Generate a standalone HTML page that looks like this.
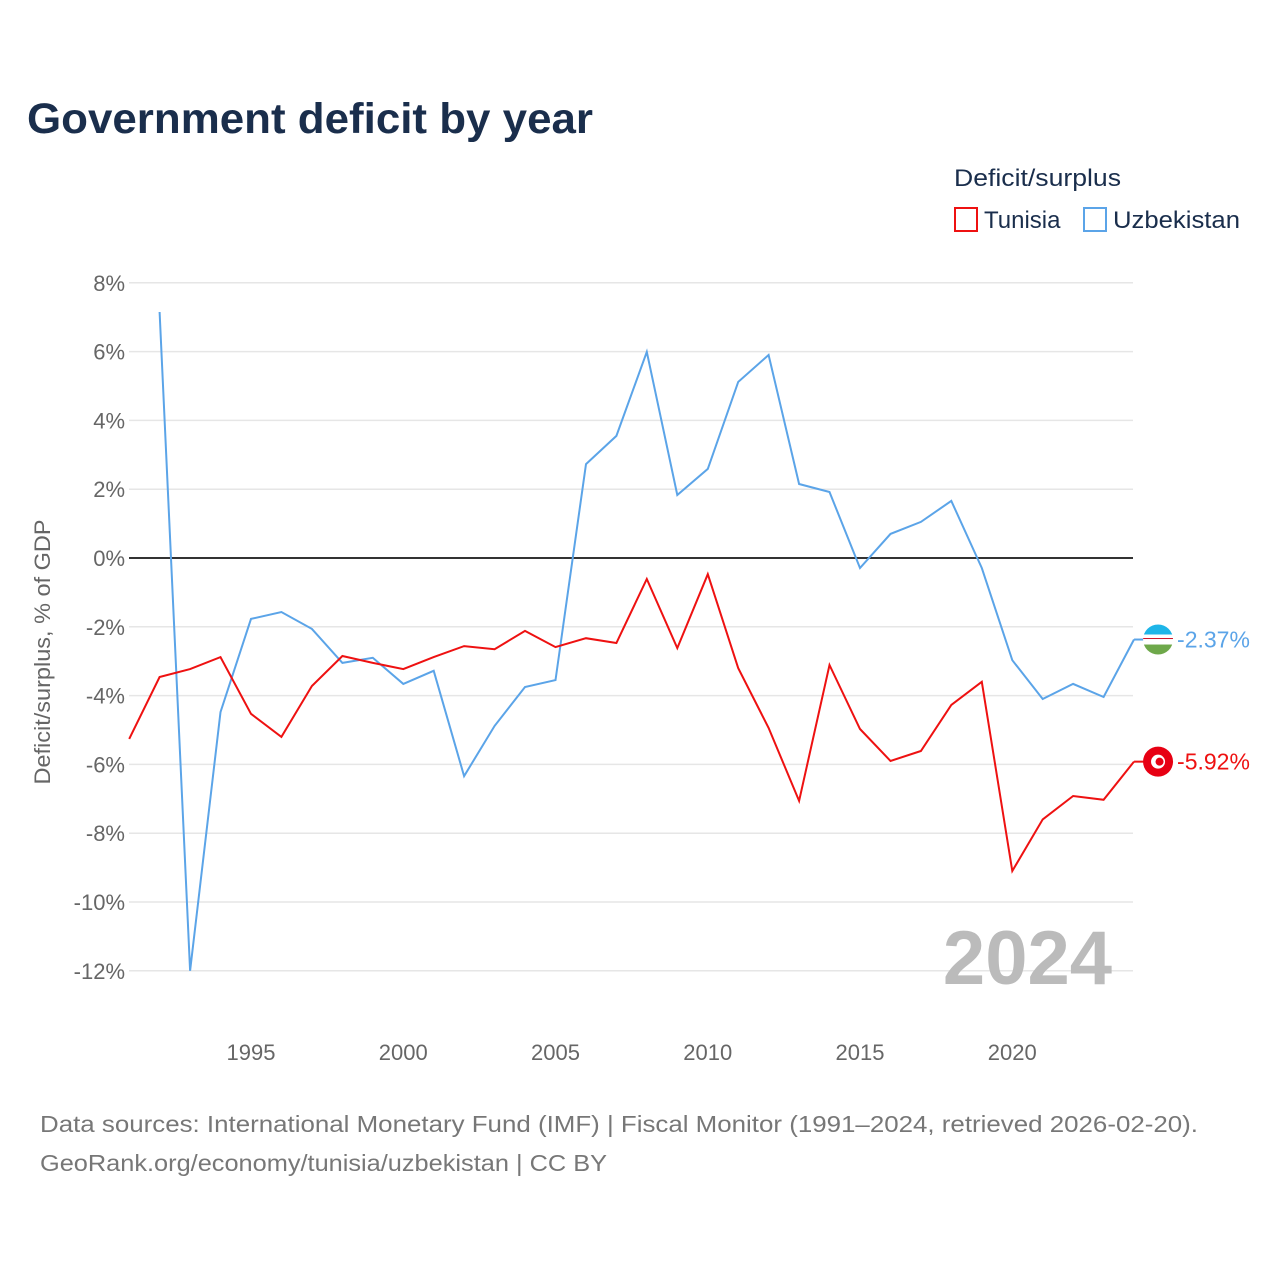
<!DOCTYPE html>
<html><head><meta charset="utf-8">
<style>
html,body{margin:0;padding:0;background:#fff;}
body{width:1280px;height:1280px;overflow:hidden;font-family:"Liberation Sans",sans-serif;}
svg text{font-family:"Liberation Sans",sans-serif;}
</style></head>
<body>
<svg id="chart" width="1280" height="1280" viewBox="0 0 1280 1280" xmlns="http://www.w3.org/2000/svg">
  <text x="27" y="133" font-size="43" font-weight="bold" fill="#1a2e4c" textLength="566" lengthAdjust="spacingAndGlyphs">Government deficit by year</text>
  <text x="954" y="186" font-size="24" fill="#1a2e4c" textLength="167" lengthAdjust="spacingAndGlyphs">Deficit/surplus</text>
  <g>
    <rect x="955" y="208" width="22" height="23" fill="none" stroke="#ee1111" stroke-width="2"/>
    <text x="984" y="228" font-size="24" fill="#1a2e4c">Tunisia</text>
  </g>
  <g>
    <rect x="1084" y="208" width="22" height="23" fill="none" stroke="#5ba4e8" stroke-width="2"/>
    <text x="1113" y="228" font-size="24" fill="#1a2e4c" textLength="127" lengthAdjust="spacingAndGlyphs">Uzbekistan</text>
  </g>
  <text transform="translate(50,652) rotate(-90)" text-anchor="middle" font-size="22" fill="#666" textLength="265" lengthAdjust="spacingAndGlyphs">Deficit/surplus, % of GDP</text>
  <g id="grid"></g>
  <g id="xticks"></g>
  <text x="1112" y="984" text-anchor="end" font-size="76" font-weight="bold" fill="#bbb">2024</text>
  <g id="series"></g>
  <text x="40" y="1132" font-size="23" fill="#777" textLength="1158" lengthAdjust="spacingAndGlyphs">Data sources: International Monetary Fund (IMF) | Fiscal Monitor (1991–2024, retrieved 2026-02-20).</text>
  <text x="40" y="1171" font-size="23" fill="#777" textLength="567" lengthAdjust="spacingAndGlyphs">GeoRank.org/economy/tunisia/uzbekistan | CC BY</text>
</svg>
<script>
const yTicks = [8,6,4,2,0,-2,-4,-6,-8,-10,-12];
const xTicks = [1995,2000,2005,2010,2015,2020];
const tunisiaYears = [1991,1992,1993,1994,1995,1996,1997,1998,1999,2000,2001,2002,2003,2004,2005,2006,2007,2008,2009,2010,2011,2012,2013,2014,2015,2016,2017,2018,2019,2020,2021,2022,2023,2024];
const tunisiaValues = [-5.26,-3.46,-3.23,-2.88,-4.53,-5.2,-3.72,-2.85,-3.05,-3.23,-2.88,-2.56,-2.65,-2.12,-2.59,-2.33,-2.47,-0.61,-2.62,-0.47,-3.2,-4.94,-7.06,-3.11,-4.97,-5.9,-5.61,-4.27,-3.6,-9.1,-7.6,-6.92,-7.03,-5.92];
const uzbekYears = [1992,1993,1994,1995,1996,1997,1998,1999,2000,2001,2002,2003,2004,2005,2006,2007,2008,2009,2010,2011,2012,2013,2014,2015,2016,2017,2018,2019,2020,2021,2022,2023,2024];
const uzbekValues = [7.15,-12.0,-4.48,-1.77,-1.57,-2.06,-3.05,-2.9,-3.66,-3.28,-6.34,-4.88,-3.75,-3.55,2.73,3.55,5.99,1.83,2.59,5.12,5.9,2.15,1.92,-0.29,0.7,1.05,1.66,-0.29,-2.97,-4.1,-3.66,-4.04,-2.37];

const NS="http://www.w3.org/2000/svg";
const xS = yr => 129.2 + (yr-1991)*30.45;
const yS = v => 558 - v*34.4;
function mk(tag, attrs, parent){const e=document.createElementNS(NS,tag);for(const k in attrs)e.setAttribute(k,attrs[k]);parent.appendChild(e);return e;}
const grid=document.getElementById('grid');
yTicks.forEach(t=>{
  const l=mk('line',{x1:129,x2:1133,y1:yS(t),y2:yS(t),stroke:t===0?'#333':'#e6e6e6','stroke-width':t===0?2:1.5},grid);
  
  
  const tx=mk('text',{x:125,y:yS(t)+8,'text-anchor':'end','font-size':22,fill:'#666'},grid);
  tx.textContent=t+'%';
  
  
});
const xt=document.getElementById('xticks');
xTicks.forEach(t=>{
  const tx=mk('text',{x:xS(t),y:1060,'text-anchor':'middle','font-size':22,fill:'#666'},xt);
  tx.textContent=t;
  
  
});
const ser=document.getElementById('series');
function line(years, vals, color, name){
  const d=years.map((y,i)=>(i?'L':'M')+xS(y).toFixed(1)+','+yS(vals[i]).toFixed(1)).join('');
  const p=mk('path',{d:d,fill:'none',stroke:color,'stroke-width':2},ser);
  
  
}
line(uzbekYears, uzbekValues, '#5ba4e8', 'uzbekistan');
line(tunisiaYears, tunisiaValues, '#ee1111', 'tunisia');
function endLabel(years, vals, color, name){
  const v=vals[vals.length-1], x=xS(years[years.length-1]), y=yS(v);
  mk('line',{x1:x,x2:x+12,y1:y,y2:y,stroke:color,'stroke-width':2},ser);
  const g=mk('g',{},ser);
  
  
  if(name==='tunisia'){
    mk('circle',{cx:x+24,cy:y,r:15,fill:'#e70013'},g);
    mk('circle',{cx:x+24,cy:y,r:7,fill:'#fff'},g);
    mk('circle',{cx:x+25.5,cy:y,r:4,fill:'#e70013'},g);
  } else {
    const cp=mk('clipPath',{id:'uzc'},g);
    mk('circle',{cx:x+24,cy:y,r:15},cp);
    const gg=mk('g',{'clip-path':'url(#uzc)'},g);
    mk('rect',{x:x+9,y:y-15,width:30,height:10,fill:'#1eb5e8'},gg);
    mk('rect',{x:x+9,y:y-5,width:30,height:10,fill:'#fff'},gg);
    mk('rect',{x:x+9,y:y-1.5,width:30,height:1,fill:'#ce1126'},gg);
    mk('rect',{x:x+9,y:y+5,width:30,height:10,fill:'#6ea84a'},gg);
  }
  const t=mk('text',{x:x+43,y:y+8,'font-size':23,fill:color},ser);
  t.textContent=v.toFixed(2)+'%';
  
  
}
endLabel(uzbekYears, uzbekValues, '#5ba4e8', 'uzbekistan');
endLabel(tunisiaYears, tunisiaValues, '#ee1111', 'tunisia');
</script>
</body></html>
